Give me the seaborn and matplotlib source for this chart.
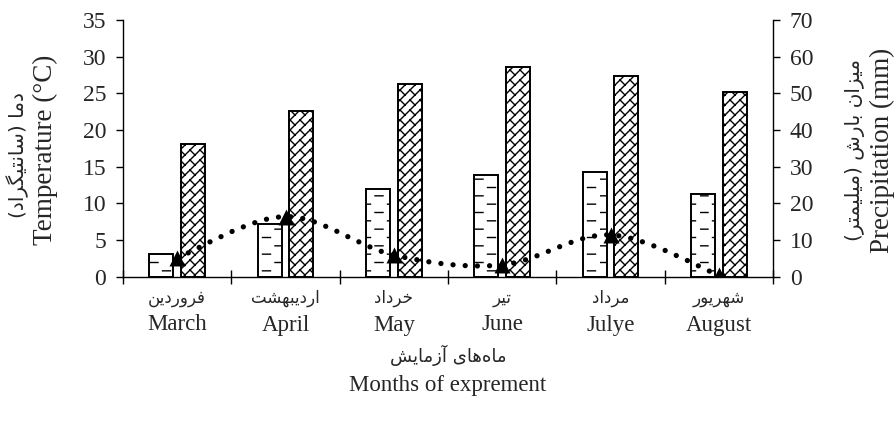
import numpy as np
import pandas as pd
import matplotlib
matplotlib.use("Agg")
import matplotlib.pyplot as plt
import matplotlib.hatch as mhatch
from matplotlib.path import Path
from matplotlib.patches import PathPatch
from matplotlib.transforms import blended_transform_factory
import seaborn as sns

# ---------------------------------------------------------------- data
months_en = ["March", "April", "May", "June", "Julye", "August"]
months_fa = ["فروردین", "اردیبهشت", "خرداد", "تیر", "مرداد", "شهریور"]
temp_min = [3.1, 7.2, 12.0, 13.9, 14.3, 11.3]      # °C
temp_max = [18.1, 22.6, 26.3, 28.6, 27.3, 25.2]    # °C
precip = [5.1, 16.4, 5.9, 3.2, 11.4, 0.4]          # mm

xlabel_fa = "ماه‌های آزمایش"
xlabel_en = "Months of exprement"
ylabel_fa = "دما (سانتیگراد)"
ylabel_en = "Temperature (°C)"
y2label_fa = "میزان بارش (میلیمتر)"
y2label_en = "Precipitation (mm)"


# ------------------------------------------------- Persian text shaping
# (isolated, final, initial, medial) presentation forms
FORMS = {
    "\u0627": ("\uFE8D", "\uFE8E", None, None),          # alef
    "\u0622": ("\uFE81", "\uFE82", None, None),          # alef madda
    "\u0628": ("\uFE8F", "\uFE90", "\uFE91", "\uFE92"),  # beh
    "\u062A": ("\uFE95", "\uFE96", "\uFE97", "\uFE98"),  # teh
    "\u062E": ("\uFEA5", "\uFEA6", "\uFEA7", "\uFEA8"),  # khah
    "\u062F": ("\uFEA9", "\uFEAA", None, None),          # dal
    "\u0631": ("\uFEAD", "\uFEAE", None, None),          # reh
    "\u0632": ("\uFEAF", "\uFEB0", None, None),          # zain
    "\u0633": ("\uFEB1", "\uFEB2", "\uFEB3", "\uFEB4"),  # seen
    "\u0634": ("\uFEB5", "\uFEB6", "\uFEB7", "\uFEB8"),  # sheen
    "\u0641": ("\uFED1", "\uFED2", "\uFED3", "\uFED4"),  # feh
    "\u0644": ("\uFEDD", "\uFEDE", "\uFEDF", "\uFEE0"),  # lam
    "\u0645": ("\uFEE1", "\uFEE2", "\uFEE3", "\uFEE4"),  # meem
    "\u0646": ("\uFEE5", "\uFEE6", "\uFEE7", "\uFEE8"),  # noon
    "\u0647": ("\uFEE9", "\uFEEA", "\uFEEB", "\uFEEC"),  # heh
    "\u0648": ("\uFEED", "\uFEEE", None, None),          # waw
    "\u06CC": ("\uFBFC", "\uFBFD", "\uFBFE", "\uFBFF"),  # farsi yeh
    "\u064A": ("\uFBFC", "\uFBFD", "\uFBFE", "\uFBFF"),  # yeh
    "\u06AF": ("\uFB92", "\uFB93", "\uFB94", "\uFB95"),  # gaf
}


def shape_rtl(text):
    """Join Persian letters and lay them out right-to-left."""
    def links_forward(c):
        f = FORMS.get(c)
        return f is not None and f[2] is not None

    out = []
    for i, c in enumerate(text):
        f = FORMS.get(c)
        if f is None:
            if c != "\u200c":
                out.append(c)
            continue
        prev = text[i - 1] if i > 0 else ""
        nxt = text[i + 1] if i + 1 < len(text) else ""
        p = links_forward(prev)
        n = f[2] is not None and nxt in FORMS
        if p and n:
            g = f[3]
        elif p:
            g = f[1]
        elif n:
            g = f[2]
        else:
            g = f[0]
        out.append(g)
    mirror = {"(": ")", ")": "("}
    return "".join(mirror.get(c, c) for c in reversed(out))


# ------------------------------------------------------- hatch patterns
class BrickDashHatch(mhatch.HatchPatternBase):
    """Rows of short staggered horizontal dashes (used for '-')."""

    def __init__(self, hatch, density):
        self.rows = 12 if "-" in hatch else 0
        self.period = 0.25
        self.length = 0.08
        self.per_row = 5
        self.num_vertices = self.rows * self.per_row * 2

    def set_vertices_and_codes(self, vertices, codes):
        idx = 0
        for j in range(self.rows):
            y = (j + 0.5) / self.rows
            off = 0.0 if j % 2 == 0 else self.period / 2
            for i in range(-1, self.per_row - 1):
                x0 = off + i * self.period
                vertices[idx] = (x0, y)
                vertices[idx + 1] = (x0 + self.length, y)
                codes[idx] = Path.MOVETO
                codes[idx + 1] = Path.LINETO
                idx += 2


class BrokenLatticeHatch(mhatch.HatchPatternBase):
    """Diagonal '/' lines joined by alternating short '\\' links."""

    def __init__(self, hatch, density):
        segs = []
        if "/" in hatch:
            n = 10
            s = 1.0 / n
            for k in range(-n - 1, n + 2):
                segs.append(((k * s, 0.0), (1.0 + k * s, 1.0)))
            for k in range(-n - 2, n + 3):
                for m in range(-2, 2 * n + 3):
                    if (k + m) % 2:
                        continue
                    a = ((k + m) * s / 2, (m - k) * s / 2)
                    b = ((k + 1 + m) * s / 2, (m - k - 1) * s / 2)
                    if (max(a[0], b[0]) < -0.1 or min(a[0], b[0]) > 1.1 or
                            max(a[1], b[1]) < -0.1 or min(a[1], b[1]) > 1.1):
                        continue
                    segs.append((a, b))
        self.segs = segs
        self.num_vertices = 2 * len(segs)

    def set_vertices_and_codes(self, vertices, codes):
        for i, (a, b) in enumerate(self.segs):
            vertices[2 * i] = a
            vertices[2 * i + 1] = b
            codes[2 * i] = Path.MOVETO
            codes[2 * i + 1] = Path.LINETO


mhatch._hatch_types = [
    BrickDashHatch if t is mhatch.HorizontalHatch
    else BrokenLatticeHatch if t is mhatch.NorthEastHatch
    else t
    for t in mhatch._hatch_types
]

# ---------------------------------------------------------------- style
sns.set_theme(style="ticks")
plt.rcParams["font.family"] = ["Liberation Serif", "DejaVu Sans"]
plt.rcParams["hatch.linewidth"] = 1.0
plt.rcParams["hatch.color"] = "black"
plt.rcParams["axes.linewidth"] = 1.0
FA_FONT = "DejaVu Sans"

df = pd.DataFrame({
    "month": months_en * 2,
    "series": ["min"] * len(months_en) + ["max"] * len(months_en),
    "temp": temp_min + temp_max,
})

fig = plt.figure(figsize=(8.96, 4.28), dpi=100)
ax = fig.add_axes([123 / 896, 1 - 276.7 / 428, 650 / 896, 256.7 / 428])

sns.barplot(data=df, x="month", y="temp", hue="series", order=months_en,
            hue_order=["min", "max"], palette=["white", "white"],
            edgecolor="black", linewidth=1.4, width=0.59, gap=0.25,
            legend=False, ax=ax)
for container, hatch in zip(ax.containers, ["-", "/"]):
    for bar in container:
        bar.set_hatch(hatch)
        bar.set_edgecolor("black")

ax.set_ylim(0, 35)
ax.set_yticks(np.arange(0, 36, 5))
ax.set_xlim(-0.5, len(months_en) - 0.5)
ax.set_xticks(range(len(months_en)))
ax.set_xticklabels([])
ax.set_xticks(np.arange(-0.5, len(months_en), 1), minor=True)
ax.tick_params(axis="x", which="major", length=0)
ax.tick_params(axis="x", which="minor", direction="inout", length=9.5,
               width=1.0, color="black")
ax.tick_params(axis="y", direction="out", length=5, width=1.0,
               color="black", labelsize=17, pad=7)
ax.set_xlabel("")
ax.set_ylabel("")
for side in ("top", "right"):
    ax.spines[side].set_visible(False)
for side in ("left", "bottom"):
    ax.spines[side].set_color("black")

# precipitation on the secondary axis
ax2 = ax.twinx()
ax2.set_ylim(0, 70)
ax2.set_yticks(np.arange(0, 71, 10))
ax2.tick_params(axis="y", direction="out", length=5, width=1.0,
                color="black", labelsize=17, pad=7)
for side in ("top", "left", "bottom"):
    ax2.spines[side].set_visible(False)
ax2.spines["right"].set_color("black")

# smoothed curve through the monthly totals (cubic Bezier segments)
pts = np.column_stack([np.arange(len(precip)), np.asarray(precip, float)])
ext = np.vstack([pts[0], pts, pts[-1]])
verts, codes = [pts[0]], [Path.MOVETO]
for i in range(len(pts) - 1):
    p0, p1, p2, p3 = ext[i], ext[i + 1], ext[i + 2], ext[i + 3]
    verts += [p1 + (p2 - p0) / 6, p2 - (p3 - p1) / 6, p2]
    codes += [Path.CURVE4] * 3
curve = PathPatch(Path(np.array(verts), codes), fill=False,
                  edgecolor="black", linewidth=3.8,
                  linestyle=(0, (0.01, 2.3)), capstyle="round", zorder=3)
ax2.add_patch(curve)
sns.scatterplot(x=np.arange(len(precip)), y=precip, marker="^", s=11.5 ** 2,
                color="black", edgecolor="black", linewidth=0, zorder=4,
                legend=False, ax=ax2)
ax2.set_xlim(-0.5, len(months_en) - 0.5)

# month names (Persian above English)
trans = blended_transform_factory(ax.transData, fig.transFigure)
for i, (en, fa) in enumerate(zip(months_en, months_fa)):
    ax.text(i, 1 - 298 / 428, shape_rtl(fa), transform=trans,
            ha="center", va="center", fontsize=12, family=FA_FONT)
    ax.text(i, 1 - 325 / 428, en, transform=trans,
            ha="center", va="center", fontsize=16.5)

# axis titles
cx = (123 + 773) / 2 / 896
fig.text(cx, 1 - 355 / 428, shape_rtl(xlabel_fa), ha="center", va="center",
         fontsize=13, family=FA_FONT)
fig.text(cx, 1 - 385 / 428, xlabel_en, ha="center", va="center", fontsize=16.5)

cy = 1 - 150 / 428
fig.text(18 / 896, 1 - 155 / 428, shape_rtl(ylabel_fa), rotation=90,
         ha="center", va="center", fontsize=14.5, family=FA_FONT)
fig.text(45 / 896, cy, ylabel_en, rotation=90, ha="center", va="center",
         fontsize=19.5)
fig.text(855 / 896, cy, shape_rtl(y2label_fa), rotation=90, ha="center",
         va="center", fontsize=14.5, family=FA_FONT)
fig.text(882 / 896, cy, y2label_en, rotation=90, ha="center", va="center",
         fontsize=19.5)

fig.savefig("out.png", dpi=100)
